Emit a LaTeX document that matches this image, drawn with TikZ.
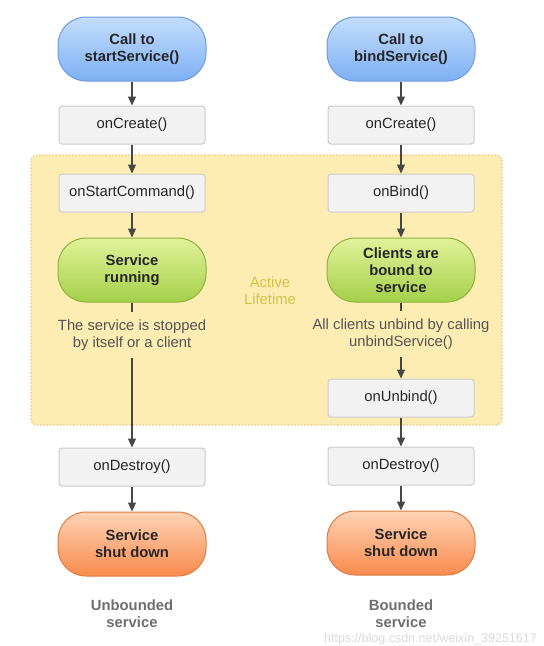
\documentclass[tikz,border=0pt]{standalone}
\usepackage{fontspec}
\setmainfont{Liberation Sans}
\usetikzlibrary{arrows.meta,positioning}
\usepackage{xcolor}
\definecolor{marrow}{HTML}{474747}
\definecolor{mbluet}{HTML}{C4DDFC}
\definecolor{mblued}{HTML}{7DB0F3}
\definecolor{mblueb}{HTML}{6D9BE2}
\definecolor{mgreent}{HTML}{E2F29A}
\definecolor{mgreend}{HTML}{A4D049}
\definecolor{mgreenb}{HTML}{8BB33F}
\definecolor{moranget}{HTML}{FFD3B6}
\definecolor{mranged}{HTML}{F98A4C}
\definecolor{morangeb}{HTML}{DE7C40}
\definecolor{mbox}{HTML}{F2F2F2}
\definecolor{mboxb}{HTML}{CBCBCB}
\definecolor{mactive}{HTML}{FDEDB3}
\definecolor{mactiveb}{HTML}{EFBE78}
\definecolor{mactivet}{HTML}{D2C244}
\definecolor{mnote}{HTML}{545454}
\definecolor{mlabel}{HTML}{6E6E6E}
\newcommand{\diagfont}{\fontsize{14.8}{17}\selectfont}
\tikzstyle{l2}=[line width=1.2pt, draw=marrow]
\tikzstyle{arr}=[l2, -{Triangle[length=9pt, width=8pt]}, marrow]
\tikzstyle{pill}=[rectangle, rounded corners=28pt, minimum width=148pt, minimum height=64pt, align=center, font=\diagfont\bfseries, text=black!85, line width=1pt]
\tikzstyle{bluepill}=[pill, draw=mblueb, top color=mbluet, bottom color=mblued]
\tikzstyle{greenpill}=[pill, draw=mgreenb, top color=mgreent, bottom color=mgreend]
\tikzstyle{orangepill}=[pill, draw=morangeb, top color=moranget, bottom color=mranged]
\tikzstyle{box}=[rectangle, rounded corners=3pt, minimum width=146pt, minimum height=38pt, fill=mbox, draw=mboxb, line width=1pt, text=black!85]
\tikzstyle{note}=[align=center, text=mnote, inner sep=7pt]
\tikzstyle{kind}=[align=center, text=mlabel, font=\diagfont\bfseries, inner sep=1pt]

\begin{document}
\begin{tikzpicture}[x=1pt, y=-1pt, font=\diagfont]
    \useasboundingbox (0,0) rectangle (544,646);

    % active lifetime area
    \draw[fill=mactive, draw=mactiveb, dotted, line width=1.3pt, rounded corners=6pt] (31,155) rectangle (502,425);
    \node[text=mactivet, align=center] at (270,291) (active) {Active\\Lifetime};

    % started service
    \node[bluepill] at (132,49) (callstart) {Call to\\startService()};
    \node[box] at (132,125) (createl) {onCreate()};
    \node[box] at (132,193) (startcmd) {onStartCommand()};
    \node[greenpill] at (132,270) (running) {Service\\running};
    \node[note] at (132,335) (stoptxt) {The service is stopped\\by itself or a client};
    \node[box] at (132,467) (destroyl) {onDestroy()};
    \node[orangepill] at (132,544) (shutl) {Service\\shut down};
    \node[kind] at (132,614) (unboundedlbl) {Unbounded\\service};

    % bound service
    \node[bluepill] at (401,49) (callbind) {Call to\\bindService()};
    \node[box] at (401,125) (creater) {onCreate()};
    \node[box] at (401,193) (bind) {onBind()};
    \node[greenpill] at (401,270) (bound) {Clients are\\bound to\\service};
    \node[note] at (401,334) (unbindtxt) {All clients unbind by calling\\unbindService()};
    \node[box] at (401,398) (unbind) {onUnbind()};
    \node[box] at (401,466) (destroyr) {onDestroy()};
    \node[orangepill] at (401,543) (shutr) {Service\\shut down};
    \node[kind] at (401,614) (boundedlbl) {Bounded\\service};

    \node[text=black!15, font=\fontsize{12.5}{14}\selectfont, anchor=south east, inner sep=1pt] at (538,646) (mark) {https://blog.csdn.net/weixin\_39251617};

    \draw[arr] (callstart) -- (createl);
    \draw[arr] (createl) -- (startcmd);
    \draw[arr] (startcmd) -- (running);
    \draw[l2] (running) -- (stoptxt);
    \draw[arr] (stoptxt) -- (destroyl);
    \draw[arr] (destroyl) -- (shutl);

    \draw[arr] (callbind) -- (creater);
    \draw[arr] (creater) -- (bind);
    \draw[arr] (bind) -- (bound);
    \draw[l2] (bound) -- (unbindtxt);
    \draw[arr] (unbindtxt) -- (unbind);
    \draw[arr] (unbind) -- (destroyr);
    \draw[arr] (destroyr) -- (shutr);
\end{tikzpicture}
\end{document}
